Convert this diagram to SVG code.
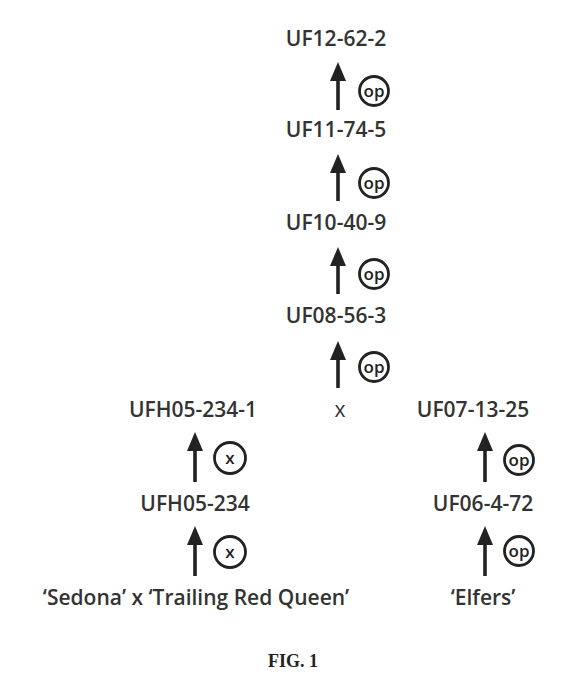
<svg xmlns="http://www.w3.org/2000/svg" width="587" height="700" viewBox="0 0 587 700">
<defs>
<path id="ah" d="M0,0 L-8,19 L8,19 Z" fill="#222"/>
</defs>
<style>
.lbl{font-family:"Open Sans","Liberation Sans",sans-serif;font-weight:600;font-size:21px;fill:#333;text-anchor:middle}
.ar{stroke:#222;stroke-width:3.6;fill:none}
.c{fill:none;stroke:#222;stroke-width:2.8}
.ct{font-family:"Open Sans","Liberation Sans",sans-serif;font-weight:600;font-size:17px;fill:#222;text-anchor:middle}
.fig{font-family:"Liberation Serif",serif;font-weight:bold;font-size:18px;fill:#222;text-anchor:middle}
</style>
<rect width="587" height="700" fill="#fff"/>
<g id="n-uf12"><text class="lbl" x="336" y="46">UF12-62-2</text></g>
<g id="n-uf11"><text class="lbl" x="336" y="137">UF11-74-5</text></g>
<g id="n-uf10"><text class="lbl" x="336" y="230">UF10-40-9</text></g>
<g id="n-uf08"><text class="lbl" x="336" y="323">UF08-56-3</text></g>
<g id="n-ufh05-1"><text class="lbl" x="193" y="417">UFH05-234-1</text></g>
<g id="n-x"><text class="lbl" x="340" y="417" style="font-weight:400">x</text></g>
<g id="n-uf07"><text class="lbl" x="473" y="417">UF07-13-25</text></g>
<g id="n-ufh05"><text class="lbl" x="195" y="511">UFH05-234</text></g>
<g id="n-uf06"><text class="lbl" x="483" y="511">UF06-4-72</text></g>
<g id="n-sedona"><text class="lbl" x="196" y="605">‘Sedona’ x ‘Trailing Red Queen’</text></g>
<g id="n-elfers"><text class="lbl" x="483" y="605">‘Elfers’</text></g>
<g id="connectors">
<line class="ar" x1="338" y1="110" x2="338" y2="75"/><use href="#ah" x="338" y="62"/>
<line class="ar" x1="338" y1="201" x2="338" y2="167"/><use href="#ah" x="338" y="154"/>
<line class="ar" x1="338" y1="294" x2="338" y2="260"/><use href="#ah" x="338" y="247"/>
<line class="ar" x1="338" y1="388" x2="338" y2="354"/><use href="#ah" x="338" y="341"/>
<line class="ar" x1="195" y1="482" x2="195" y2="445"/><use href="#ah" x="195" y="432"/>
<line class="ar" x1="195" y1="576" x2="195" y2="539"/><use href="#ah" x="195" y="526"/>
<line class="ar" x1="485" y1="482" x2="485" y2="445"/><use href="#ah" x="485" y="432"/>
<line class="ar" x1="485" y1="576" x2="485" y2="539"/><use href="#ah" x="485" y="526"/>
</g>
<g id="marks">
<circle class="c" cx="374" cy="91" r="14.5"/><text class="ct" x="374" y="97">op</text>
<circle class="c" cx="374" cy="183" r="14.5"/><text class="ct" x="374" y="189">op</text>
<circle class="c" cx="374" cy="274" r="14.5"/><text class="ct" x="374" y="280">op</text>
<circle class="c" cx="374" cy="367" r="14.5"/><text class="ct" x="374" y="373">op</text>
<circle class="c" cx="230" cy="458" r="15.5"/><text class="ct" x="230" y="464">x</text>
<circle class="c" cx="230" cy="552" r="15.5"/><text class="ct" x="230" y="558">x</text>
<circle class="c" cx="519" cy="460" r="14.5"/><text class="ct" x="519" y="466">op</text>
<circle class="c" cx="519" cy="551" r="14.5"/><text class="ct" x="519" y="557">op</text>
</g>
<g id="caption"><text class="fig" x="293" y="667">FIG. 1</text></g>
</svg>
